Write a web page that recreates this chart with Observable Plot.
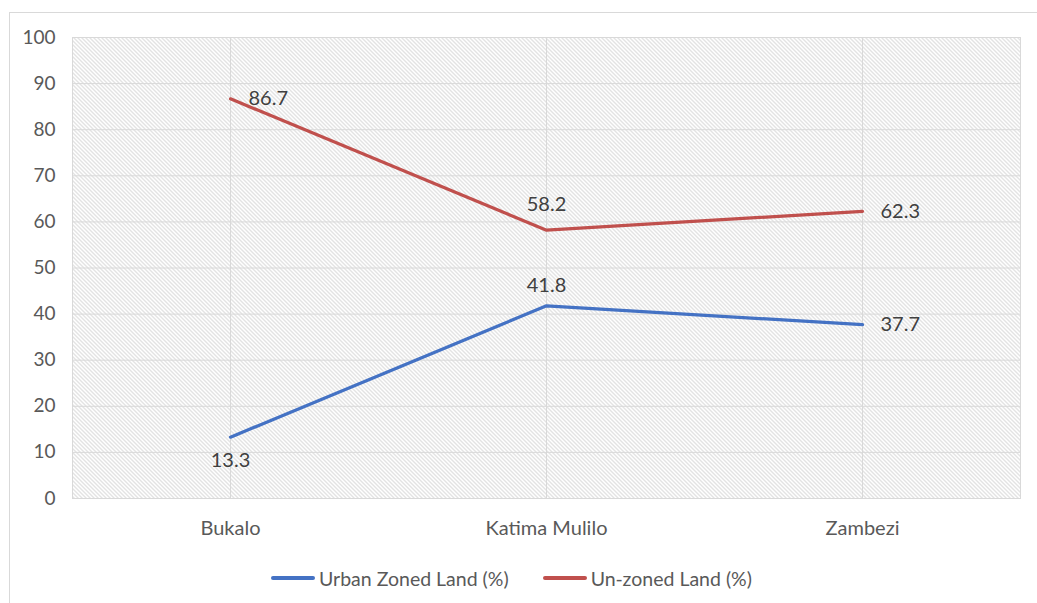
<!DOCTYPE html>
<html>
<head>
<meta charset="utf-8">
<script src="https://cdn.jsdelivr.net/npm/d3@7"></script>
<script src="https://cdn.jsdelivr.net/npm/@observablehq/plot@0.6"></script>
<style>
  body { margin: 0; background: #fff; font-family: Lato, "Open Sans", sans-serif; }
  #wrap { position: relative; width: 1037px; height: 603px; overflow: hidden; }
  #border { position: absolute; left: 9px; top: 12px; width: 1100px; height: 700px; border: 1px solid #d9d9d9; box-sizing: border-box; }
  #chart { position: absolute; left: 0; top: 0; }
  #legend { position: absolute; left: 0; top: 563px; width: 1037px; height: 30px; display: flex; justify-content: center; align-items: center; gap: 34px; font-size: 19.5px; color: #595959; padding-right: 14px; box-sizing: border-box; }
  .item { display: flex; align-items: center; gap: 4px; }
  .swatch { width: 44px; height: 4px; border-radius: 2px; }
</style>
</head>
<body>
<div id="wrap">
  <div id="border"></div>
  <div id="chart"></div>
  <div id="legend"></div>
</div>
<script>
const towns = ["Bukalo", "Katima Mulilo", "Zambezi"];
const urbanZoned = [13.3, 41.8, 37.7];
const unZoned = [86.7, 58.2, 62.3];
const seriesNames = ["Urban Zoned Land (%)", "Un-zoned Land (%)"];
const seriesColors = ["#4472C4", "#C0504D"];
const yTicks = [0, 10, 20, 30, 40, 50, 60, 70, 80, 90, 100];

// label placement per point: [dx, dy, anchor]
const urbanLabelPos = [[0, 23, "middle"], [0, -20, "middle"], [18, 0, "start"]];
const unLabelPos = [[18, 0, "start"], [0, -26, "middle"], [18, 0, "start"]];

const rows = [];
towns.forEach((t, i) => {
  rows.push({town: t, value: urbanZoned[i], series: seriesNames[0], pos: urbanLabelPos[i]});
  rows.push({town: t, value: unZoned[i], series: seriesNames[1], pos: unLabelPos[i]});
});

const labelMarks = rows.map(r => Plot.text([r], {
  x: "town", y: "value", text: d => d.value.toFixed(1),
  dx: r.pos[0], dy: r.pos[1], textAnchor: r.pos[2],
  fill: "#404040", fontSize: 20
}));

const plot = Plot.plot({
  width: 1037,
  height: 555,
  marginLeft: 72,
  marginRight: 17,
  marginTop: 37,
  marginBottom: 57,
  style: {fontFamily: "Lato, 'Open Sans', sans-serif", background: "transparent"},
  x: {type: "band", domain: towns, padding: 0, label: null, tickSize: 0, tickPadding: 22},
  y: {domain: [0, 100], ticks: yTicks, label: null, tickSize: 0, tickPadding: 17},
  color: {domain: seriesNames, range: seriesColors},
  marks: [
    Plot.frame({fill: "url(#hatch)", stroke: "#d9d9d9"}),
    Plot.gridY(yTicks, {stroke: "#d9d9d9", strokeOpacity: 1}),
    Plot.gridX(towns, {stroke: "#d9d9d9", strokeOpacity: 1}),
    Plot.axisY(yTicks, {tickSize: 0, tickPadding: 17, fontSize: 19, fill: "#595959"}),
    Plot.axisX(towns, {tickSize: 0, tickPadding: 22, fontSize: 20, fill: "#595959"}),
    Plot.line(rows, {x: "town", y: "value", z: "series", stroke: "series", strokeWidth: 3.2, curve: "linear"}),
    ...labelMarks
  ]
});

// diagonal hatch fill for the plot area
const svg = d3.select(plot);
const defs = svg.insert("defs", ":first-child");
const pat = defs.append("pattern")
  .attr("id", "hatch").attr("patternUnits", "userSpaceOnUse")
  .attr("width", 4).attr("height", 4);
pat.append("rect").attr("width", 4).attr("height", 4).attr("fill", "#ffffff");
pat.append("path").attr("d", "M-1,-1L5,5M-1,3L1,5M3,-1L5,1")
  .attr("stroke", "#c6c6c6").attr("stroke-width", 1);

document.getElementById("chart").appendChild(plot);

const legend = d3.select("#legend");
seriesNames.forEach((name, i) => {
  const item = legend.append("div").attr("class", "item");
  item.append("div").attr("class", "swatch").style("background", seriesColors[i]);
  item.append("span").text(name);
});
</script>
</body>
</html>
